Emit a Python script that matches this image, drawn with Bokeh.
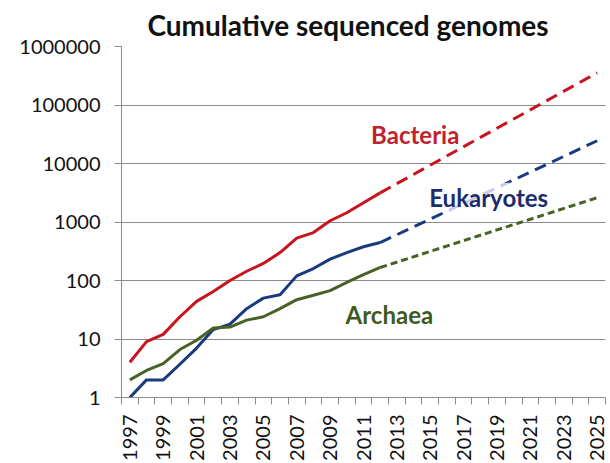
import math
from bokeh.plotting import figure
from bokeh.models import FixedTicker, NumeralTickFormatter, Label, Range1d
from bokeh.embed import file_html
from bokeh.resources import INLINE

# ---- data ----
years = list(range(1997, 2013))
bacteria = [4, 9, 12, 24, 44, 65, 100, 144, 196, 300, 530, 660, 1050, 1440, 2130, 3150]
eukaryotes = [1, 2, 2, 3.7, 7, 14.5, 18, 33, 50, 57, 120, 160, 232, 300, 377, 445]
archaea = [2, 2.9, 3.8, 6.6, 9.5, 15.4, 16, 21, 24, 33, 47, 56, 67, 93, 126, 167]

proj_years = [2012, 2025]
bacteria_proj = [3150, 355000]
eukaryotes_proj = [445, 24500]
archaea_proj = [167, 2600]

tick_years = list(range(1997, 2026, 2))
y_ticks = [1, 10, 100, 1000, 10000, 100000, 1000000]

RED = "#C8141E"
BLUE = "#1A3A80"
GREEN = "#4A6125"
GRID = "#8C8C8C"

p = figure(width=610, height=463, output_backend="svg",
           toolbar_location=None, y_axis_type="log",
           x_range=Range1d(1996.5, 2025.5), y_range=Range1d(1, 1000000),
           title="Cumulative sequenced genomes")
p.min_border_left = 121
p.min_border_right = 5
p.min_border_top = 45
p.min_border_bottom = 65
p.outline_line_color = None
p.background_fill_color = "white"

p.title.text_font = "Lato"
p.title.text_font_size = "28px"
p.title.text_font_style = "bold"
p.title.text_color = "#111111"
p.title.align = "left"
p.title.offset = 26
p.title.standoff = 10
p.title.vertical_align = "bottom"

# lines
p.line(years, bacteria, line_color=RED, line_width=3)
p.line(years, eukaryotes, line_color=BLUE, line_width=3)
p.line(years, archaea, line_color=GREEN, line_width=3)
p.line(proj_years, bacteria_proj, line_color=RED, line_width=3, line_dash="12 7")
p.line(proj_years, eukaryotes_proj, line_color=BLUE, line_width=3, line_dash="12 7")
p.line(proj_years, archaea_proj, line_color=GREEN, line_width=3, line_dash="7 4")

# labels
p.add_layout(Label(x=2014.1, y=31000, text="Bacteria", text_align="center",
                   text_baseline="middle", text_font="Lato", text_font_size="24px",
                   text_font_style="bold", text_color="#C0232B"))
p.add_layout(Label(x=2018.5, y=2650, text="Eukaryotes", text_align="center",
                   text_baseline="middle", text_font="Lato", text_font_size="24px",
                   text_font_style="bold", text_color="#1C2C6C",
                   background_fill_color="white", background_fill_alpha=0.75))
p.add_layout(Label(x=2012.55, y=26.4, text="Archaea", text_align="center",
                   text_baseline="middle", text_font="Lato", text_font_size="24px",
                   text_font_style="bold", text_color="#3E5A1E"))

# x axis
xa = p.xaxis[0]
xa.ticker = FixedTicker(ticks=tick_years,
                        minor_ticks=[y - 0.5 for y in range(1997, 2027)])
xa.major_label_orientation = math.pi / 2
xa.major_tick_line_color = None
xa.major_tick_out = 0
xa.major_tick_in = 0
xa.minor_tick_line_color = GRID
xa.minor_tick_out = 7
xa.minor_tick_in = 0
xa.axis_line_color = GRID
xa.major_label_text_font = "Lato"
xa.major_label_text_font_size = "20px"
xa.major_label_text_color = "#111111"
xa.major_label_standoff = 10

# y axis
ya = p.yaxis[0]
ya.ticker = FixedTicker(ticks=y_ticks)
ya.formatter = NumeralTickFormatter(format="0")
ya.major_tick_line_color = GRID
ya.major_tick_out = 7
ya.major_tick_in = 0
ya.minor_tick_line_color = None
ya.axis_line_color = GRID
ya.major_label_text_font = "Lato"
ya.major_label_text_font_size = "20px"
ya.major_label_text_color = "#111111"
ya.major_label_standoff = 14

p.xgrid.grid_line_color = None
p.ygrid.grid_line_color = GRID
p.ygrid.ticker = FixedTicker(ticks=y_ticks)

open("out.html", "w").write(file_html(p, INLINE))
